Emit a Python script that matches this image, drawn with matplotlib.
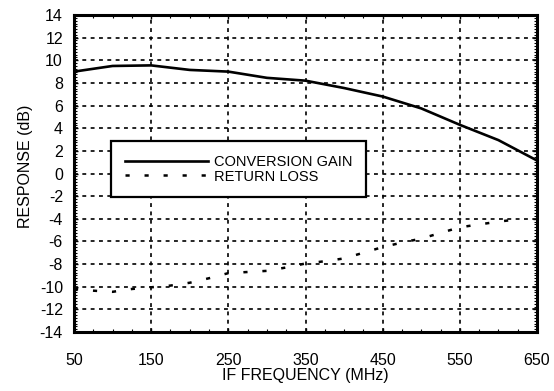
import matplotlib.pyplot as plt
from matplotlib.ticker import MultipleLocator

# IF response of the mixer
freq_gain = [50, 100, 150, 200, 250, 300, 350, 400, 450, 500, 550, 600, 650]
conversion_gain = [9.0, 9.5, 9.55, 9.15, 9.0, 8.45, 8.2, 7.55, 6.8, 5.75, 4.3, 2.95, 1.15]

freq_rl = [50, 75, 100, 125, 150, 175, 200, 225, 250, 275, 300, 325,
           350, 375, 400, 425, 450, 475, 500, 525, 550, 575, 600, 625]
return_loss = [-10.2, -10.35, -10.45, -10.2, -10.05, -9.9, -9.65, -9.25,
               -8.8, -8.7, -8.6, -8.3, -7.95, -7.75, -7.5, -7.0,
               -6.5, -6.1, -5.75, -5.25, -4.75, -4.5, -4.25, -4.05]

x_ticks = [50, 150, 250, 350, 450, 550, 650]
y_ticks = list(range(-14, 15, 2))

plt.rcParams['font.family'] = ['Liberation Sans', 'DejaVu Sans']
plt.rcParams['lines.scale_dashes'] = False
plt.rcParams['axes.unicode_minus'] = False

fig = plt.figure(figsize=(5.54, 3.91), dpi=100)
ax = fig.add_axes([0.1336, 0.1509, 0.8357, 0.8107])

ax.plot(freq_gain, conversion_gain, color='black', lw=1.9,
        label='CONVERSION GAIN', zorder=3)
ax.plot(freq_rl, return_loss, color='black', lw=1.8,
        linestyle=(0, (3.0, 10.7)), label='RETURN LOSS', zorder=3)

ax.set_xlim(50, 650)
ax.set_ylim(-14, 14)
ax.set_xticks(x_ticks)
ax.set_yticks(y_ticks)
ax.xaxis.set_minor_locator(MultipleLocator(25))
ax.yaxis.set_minor_locator(MultipleLocator(0.25))

ax.grid(True, which='major', color='black', lw=1.2, linestyle=(0, (2.8, 3.2)))
ax.set_axisbelow(True)

ax.tick_params(which='both', direction='in', top=True, right=True,
               colors='black', labelsize=11.5)
ax.tick_params(which='major', length=3, width=1)
ax.tick_params(which='minor', length=2.2, width=0.8)
ax.tick_params(axis='x', pad=15)
ax.tick_params(axis='y', pad=8)

for spine in ax.spines.values():
    spine.set_linewidth(2.2)

ax.set_xlabel('IF FREQUENCY (MHz)', fontsize=11.5)
ax.xaxis.set_label_coords(0.5, -0.115)
ax.set_ylabel('RESPONSE (dB)', fontsize=11.5)
ax.yaxis.set_label_coords(-0.088, 0.524)

leg = ax.legend(loc='upper left', bbox_to_anchor=(0.08, 0.6025),
                fontsize=10.5, frameon=True, fancybox=False, framealpha=1,
                edgecolor='black', handlelength=5.7, handletextpad=0.4,
                labelspacing=0.05, borderpad=0.95, borderaxespad=0)
leg.get_frame().set_linewidth(1.6)

fig.savefig('out.png', dpi=100)
